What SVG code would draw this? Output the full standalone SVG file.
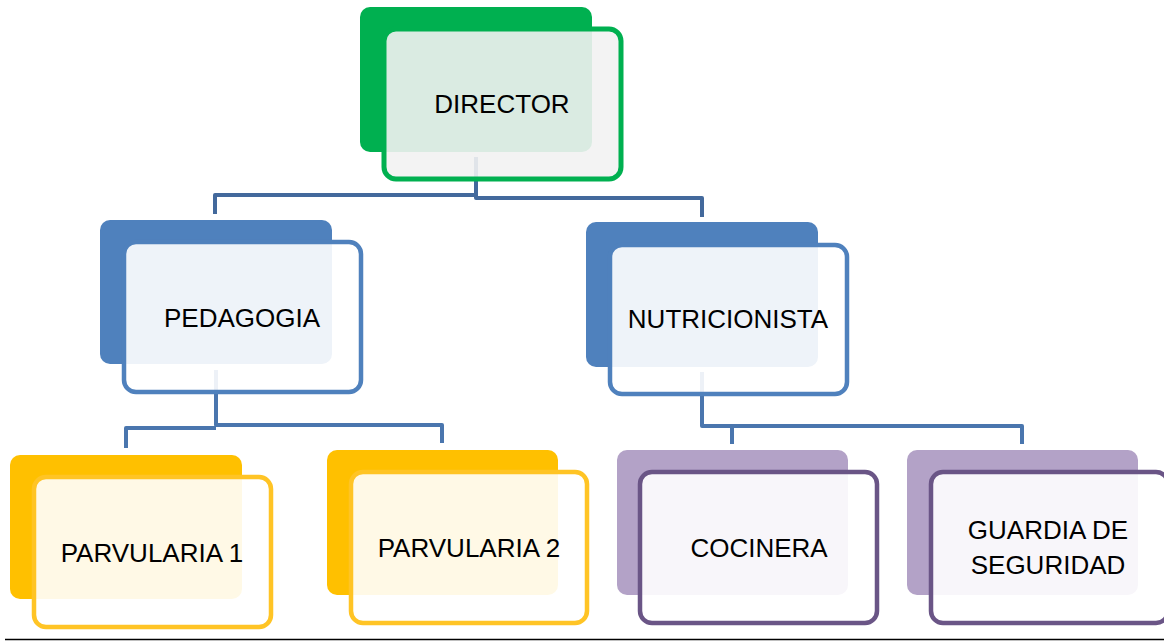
<svg xmlns="http://www.w3.org/2000/svg" width="1164" height="641" viewBox="0 0 1164 641">
<style>
  .lbl { font-family: "Liberation Sans", Arial, sans-serif; font-size: 26px; fill: #000; text-anchor: middle; }
  .conn { fill: none; stroke-width: 4; stroke-linejoin: round; }
  .back { stroke: none; }
  .front { stroke-width: 4.5; }
  .g-back { fill: #00b050; }
  .g-front { fill: #f2f2f2; fill-opacity: 0.9; stroke: #00b050; stroke-width: 5; }
  .b-back { fill: #4f81bd; }
  .b-front { fill: #ffffff; fill-opacity: 0.9; stroke: #4f81bd; }
  .y-back { fill: #ffc000; }
  .y-front { fill: #ffffff; fill-opacity: 0.9; stroke: #ffc425; }
  .p-back { fill: #b3a2c7; }
  .p-front { fill: #ffffff; fill-opacity: 0.9; stroke: #6a5586; }
</style>
<rect x="0" y="0" width="1164" height="641" fill="#ffffff"/>
<g id="connectors">
  <path class="conn" stroke="#43699c" d="M215,214 V195 H476"/>
  <path class="conn" stroke="#43699c" d="M476,157 V198 H702 V217"/>
  <path class="conn" stroke="#4a76ae" d="M126,448 V428 H216"/>
  <path class="conn" stroke="#4a76ae" d="M216,370 V425 H442 V443"/>
  <path class="conn" stroke="#4a76ae" d="M702,372 V426 H1022 V444"/>
  <path class="conn" stroke="#4a76ae" d="M732,426 V444"/>
</g>
<g id="director">
  <rect class="back g-back" x="360" y="7" width="232" height="145" rx="10"/>
  <rect class="g-front" x="384" y="29" width="237" height="150" rx="12"/>
  <text class="lbl" x="502" y="113">DIRECTOR</text>
</g>
<g id="pedagogia">
  <rect class="back b-back" x="100" y="220" width="232" height="144" rx="10"/>
  <rect class="front b-front" x="124" y="242" width="237" height="150" rx="12"/>
  <text class="lbl" x="242" y="327">PEDAGOGIA</text>
</g>
<g id="nutricionista">
  <rect class="back b-back" x="586" y="222" width="232" height="145" rx="10"/>
  <rect class="front b-front" x="610" y="245" width="237" height="149" rx="12"/>
  <text class="lbl" x="728" y="328">NUTRICIONISTA</text>
</g>
<g id="parvularia1">
  <rect class="back y-back" x="10" y="455" width="232" height="144" rx="10"/>
  <rect class="front y-front" x="34" y="477" width="237" height="150" rx="12"/>
  <text class="lbl" x="152" y="562">PARVULARIA 1</text>
</g>
<g id="parvularia2">
  <rect class="back y-back" x="327" y="450" width="231" height="145" rx="10"/>
  <rect class="front y-front" x="351" y="472" width="236" height="151" rx="12"/>
  <text class="lbl" x="469" y="557">PARVULARIA 2</text>
</g>
<g id="cocinera">
  <rect class="back p-back" x="617" y="450" width="231" height="145" rx="10"/>
  <rect class="front p-front" x="640" y="472" width="237" height="151" rx="12"/>
  <text class="lbl" x="759" y="557">COCINERA</text>
</g>
<g id="guardia">
  <rect class="back p-back" x="907" y="450" width="231" height="145" rx="10"/>
  <rect class="front p-front" x="931" y="472" width="237" height="151" rx="12"/>
  <text class="lbl" x="1048" y="539">GUARDIA DE</text>
  <text class="lbl" x="1048" y="574">SEGURIDAD</text>
</g>
<line x1="5" y1="639.5" x2="1164" y2="639.5" stroke="#000000" stroke-width="1.5"/>
</svg>
